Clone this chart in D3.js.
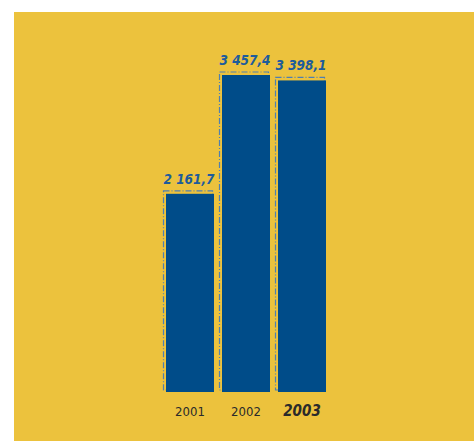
<!DOCTYPE html>
<html>
<head>
<meta charset="utf-8">
<script src="https://cdn.jsdelivr.net/npm/d3@7"></script>
<style>
  body { margin: 0; background: #fff; }
</style>
</head>
<body>
<div id="chart"></div>
<script>
const years = ["2001", "2002", "2003"];
const values = [2161.7, 3457.4, 3398.1];
const valueLabels = ["2 161,7", "3 457,4", "3 398,1"];

function renderChart() {
    const width = 474, height = 441;
    const svg = d3.select("#chart").append("svg")
        .attr("width", width)
        .attr("height", height);

    // yellow panel
    svg.append("rect")
        .attr("x", 14).attr("y", 12)
        .attr("width", width - 14).attr("height", height - 12)
        .attr("fill", "#ECC23D");

    const x = d3.scaleBand()
        .domain(years)
        .range([166, 326])
        .paddingInner(1 / 7)
        .paddingOuter(0);

    const y = d3.scaleLinear()
        .domain([0, 3457.4])
        .range([392, 75]);

    const g = svg.append("g");

    // sketchy dashed outline behind each bar
    g.selectAll(".outline").data(values)
        .enter().append("rect")
            .attr("class", "outline")
            .attr("x", (d, i) => x(years[i]) - 2.5)
            .attr("y", d => y(d) - 3)
            .attr("width", x.bandwidth() + 1)
            .attr("height", d => y(0) - y(d) + 1)
            .attr("fill", "none")
            .attr("stroke", "#4F7FB0")
            .attr("stroke-width", 1.2)
            .attr("stroke-dasharray", "6,2,1,2");

    g.selectAll(".bar").data(values)
        .enter().append("rect")
            .attr("class", "bar")
            .attr("x", (d, i) => x(years[i]))
            .attr("y", d => y(d))
            .attr("width", x.bandwidth())
            .attr("height", d => y(0) - y(d))
            .attr("fill", "#004C89");

    g.selectAll(".val").data(values)
        .enter().append("text")
            .attr("class", "val")
            .attr("x", (d, i) => x(years[i]) + x.bandwidth() / 2 - 1)
            .attr("y", d => y(d) - 10)
            .attr("text-anchor", "middle")
            .attr("font-family", "DejaVu Sans")
            .attr("font-stretch", "condensed")
            .attr("font-style", "italic")
            .attr("font-weight", "bold")
            .attr("font-size", 13.5)
            .attr("fill", "#1D5C9C")
            .text((d, i) => valueLabels[i]);

    g.selectAll(".year").data(years)
        .enter().append("text")
            .attr("class", "year")
            .attr("x", d => x(d) + x.bandwidth() / 2)
            .attr("y", 416)
            .attr("text-anchor", "middle")
            .attr("font-family", "Liberation Sans Narrow, DejaVu Sans")
            .attr("font-stretch", "condensed")
            .attr("font-style", (d, i) => i === 2 ? "italic" : "normal")
            .attr("font-weight", (d, i) => i === 2 ? "bold" : "normal")
            .attr("font-size", (d, i) => i === 2 ? 15 : 13)
            .attr("fill", "#2A2A2A")
            .text(d => d);
}
renderChart();
</script>
</body>
</html>
